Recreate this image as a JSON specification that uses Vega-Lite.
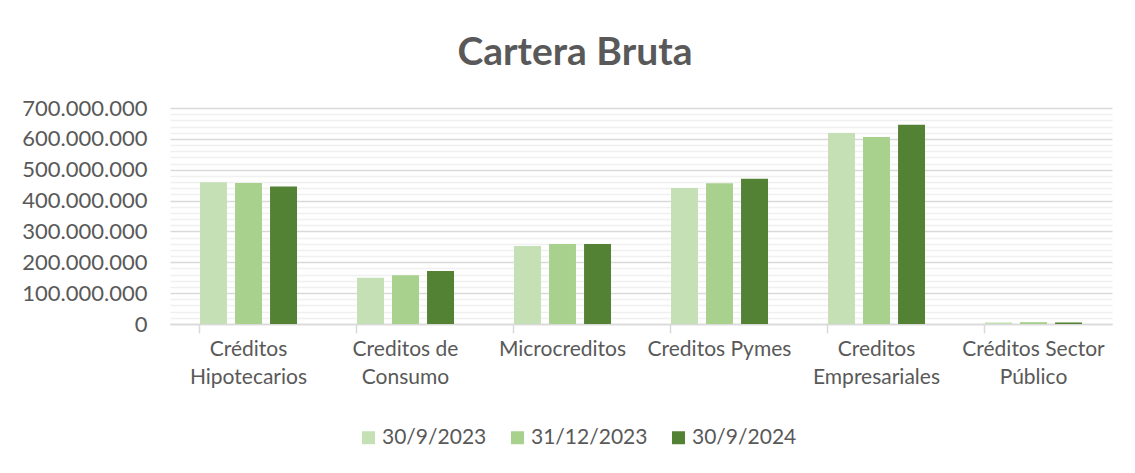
{
  "$schema": "https://vega.github.io/schema/vega-lite/v6.json",
  "autosize": "none",
  "width": 942,
  "height": 216,
  "padding": {"left": 170, "top": 108, "right": 23, "bottom": 149},
  "background": "white",
  "title": {
    "text": "Cartera Bruta",
    "fontSize": 39,
    "fontWeight": "bold",
    "color": "#595959",
    "font": "Lato",
    "anchor": "middle",
    "frame": "group",
    "dx": -66,
    "offset": 24
  },
  "data": {
    "values": [
      {"categoria": "Créditos Hipotecarios", "fecha": "30/9/2023", "valor": 459000000},
      {"categoria": "Créditos Hipotecarios", "fecha": "31/12/2023", "valor": 457000000},
      {"categoria": "Créditos Hipotecarios", "fecha": "30/9/2024", "valor": 446000000},
      {"categoria": "Creditos de Consumo", "fecha": "30/9/2023", "valor": 150000000},
      {"categoria": "Creditos de Consumo", "fecha": "31/12/2023", "valor": 158000000},
      {"categoria": "Creditos de Consumo", "fecha": "30/9/2024", "valor": 172000000},
      {"categoria": "Microcreditos", "fecha": "30/9/2023", "valor": 253000000},
      {"categoria": "Microcreditos", "fecha": "31/12/2023", "valor": 259000000},
      {"categoria": "Microcreditos", "fecha": "30/9/2024", "valor": 259000000},
      {"categoria": "Creditos Pymes", "fecha": "30/9/2023", "valor": 441000000},
      {"categoria": "Creditos Pymes", "fecha": "31/12/2023", "valor": 456000000},
      {"categoria": "Creditos Pymes", "fecha": "30/9/2024", "valor": 471000000},
      {"categoria": "Creditos Empresariales", "fecha": "30/9/2023", "valor": 619000000},
      {"categoria": "Creditos Empresariales", "fecha": "31/12/2023", "valor": 606000000},
      {"categoria": "Creditos Empresariales", "fecha": "30/9/2024", "valor": 646000000},
      {"categoria": "Créditos Sector Público", "fecha": "30/9/2023", "valor": 5000000},
      {"categoria": "Créditos Sector Público", "fecha": "31/12/2023", "valor": 6000000},
      {"categoria": "Créditos Sector Público", "fecha": "30/9/2024", "valor": 5000000}
    ]
  },
  "mark": {"type": "bar"},
  "encoding": {
    "x": {
      "field": "categoria",
      "type": "nominal",
      "sort": ["Créditos Hipotecarios", "Creditos de Consumo", "Microcreditos", "Creditos Pymes", "Creditos Empresariales", "Créditos Sector Público"],
      "scale": {"paddingInner": 0.382, "paddingOuter": 0.191},
      "axis": {
        "title": null,
        "labelAngle": 0,
        "labelFontSize": 21,
        "labelColor": "#595959",
        "labelFont": "Lato",
        "labelPadding": 5,
        "labelLineHeight": 28,
        "labelLimit": 300,
        "bandPosition": 0,
        "tickSize": 9,
        "tickColor": "#D9D9D9",
        "tickWidth": 1.5,
        "domainColor": "#D9D9D9",
        "domainWidth": 1.5,
        "grid": false,
        "labelExpr": "datum.value == 'Créditos Hipotecarios' ? ['Créditos', 'Hipotecarios'] : datum.value == 'Creditos de Consumo' ? ['Creditos de', 'Consumo'] : datum.value == 'Creditos Empresariales' ? ['Creditos', 'Empresariales'] : datum.value == 'Créditos Sector Público' ? ['Créditos Sector', 'Público'] : datum.value"
      }
    },
    "xOffset": {
      "field": "fecha",
      "type": "nominal",
      "sort": ["30/9/2023", "31/12/2023", "30/9/2024"],
      "scale": {"paddingInner": 0.23, "paddingOuter": 0}
    },
    "y": {
      "field": "valor",
      "type": "quantitative",
      "scale": {"domain": [0, 700000000], "nice": false},
      "axis": {
        "title": null,
        "values": [0, 20000000, 40000000, 60000000, 80000000, 100000000, 120000000, 140000000, 160000000, 180000000, 200000000, 220000000, 240000000, 260000000, 280000000, 300000000, 320000000, 340000000, 360000000, 380000000, 400000000, 420000000, 440000000, 460000000, 480000000, 500000000, 520000000, 540000000, 560000000, 580000000, 600000000, 620000000, 640000000, 660000000, 680000000, 700000000],
        "labelExpr": "datum.value % 100000000 === 0 ? join(split(format(datum.value, ','), ','), '.') : ''",
        "labelOverlap": false,
        "labelFontSize": 22,
        "labelColor": "#595959",
        "labelFont": "Lato",
        "labelPadding": 23,
        "ticks": false,
        "domain": false,
        "grid": true,
        "gridColor": {"condition": {"test": "datum.value % 100000000 === 0", "value": "#D9D9D9"}, "value": "#F0F0F0"},
        "gridWidth": 1.5
      }
    },
    "color": {
      "field": "fecha",
      "type": "nominal",
      "scale": {"domain": ["30/9/2023", "31/12/2023", "30/9/2024"], "range": ["#C5E0B4", "#A9D18E", "#548235"]},
      "legend": {
        "title": null,
        "orient": "none",
        "direction": "horizontal",
        "legendX": 188,
        "legendY": 319,
        "symbolType": "square",
        "symbolSize": 169,
        "symbolStrokeWidth": 0,
        "labelFontSize": 21,
        "labelColor": "#595959",
        "labelFont": "Lato",
        "labelOffset": 3,
        "columnPadding": 20
      }
    }
  },
  "config": {"view": {"stroke": null}, "font": "Lato"}
}
